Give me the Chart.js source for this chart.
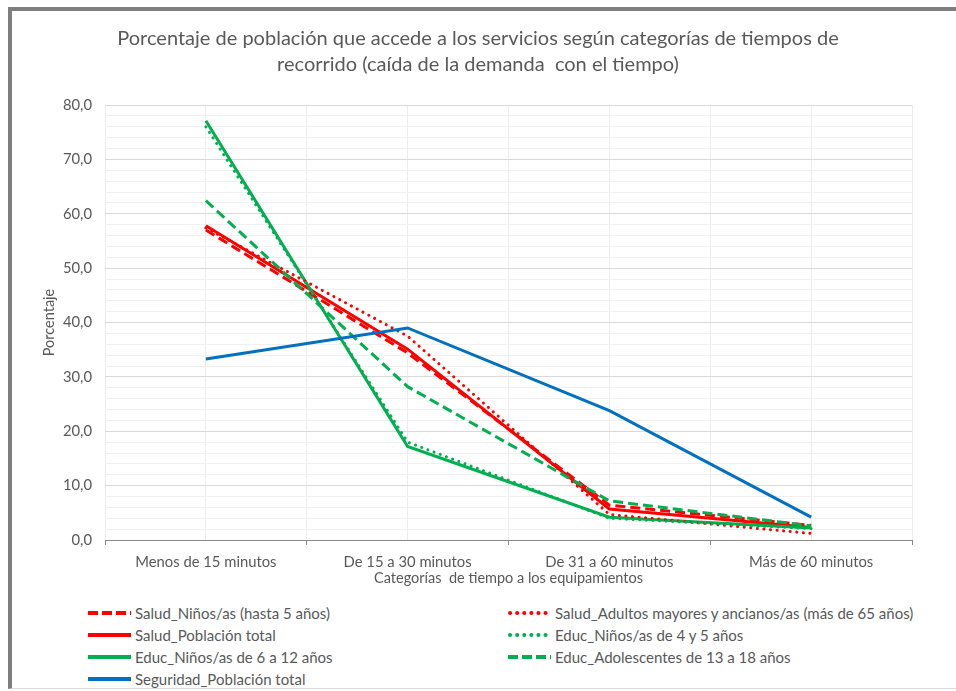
<!DOCTYPE html>
<html>
<head>
<meta charset="utf-8">
<script src="https://cdn.jsdelivr.net/npm/chart.js@4.4.1/dist/chart.umd.min.js"></script>
<style>
  html, body { margin: 0; padding: 0; background: #ffffff; width: 956px; height: 691px; overflow: hidden; }
  #frame { position: absolute; left: 8px; top: 7px; width: 1000px; height: 677px;
           border-top: 4px solid #7f7f7f; border-left: 4px solid #7f7f7f; border-bottom: 1px solid #d9d9d9; }
  #wrap { position: absolute; left: 0; top: 0; width: 956px; height: 587px; }
  #legend { position: absolute; left: 0; top: 602px; width: 956px; height: 88px;
            font-family: Lato, "Open Sans", sans-serif; font-size: 15px; color: #595959; }
  .item { position: absolute; height: 22px; line-height: 22px; white-space: nowrap; }
  .item canvas { position: absolute; left: 0; top: 0; }
  .item span { position: absolute; top: 0; }
</style>
</head>
<body>
<div id="frame"></div>
<div id="wrap"><canvas id="c"></canvas></div>
<div id="legend"></div>
<script>
const categories = ['Menos de 15 minutos', 'De 15 a 30 minutos', 'De 31 a 60 minutos', 'Más de 60 minutos'];
const seriesNames = [
  'Salud_Niños/as (hasta 5 años)',
  'Salud_Adultos mayores y ancianos/as (más de 65 años)',
  'Salud_Población total',
  'Educ_Niños/as de 4 y 5 años',
  'Educ_Niños/as de 6 a 12 años',
  'Educ_Adolescentes de 13 a 18 años',
  'Seguridad_Población total'
];
const saludNinos     = [57.0, 34.4, 6.4, 2.7];
const saludAdultos   = [57.4, 37.5, 4.7, 1.2];
const saludTotal     = [57.8, 35.1, 5.7, 2.3];
const educNinos45    = [76.0, 18.0, 4.0, 2.1];
const educNinos612   = [77.1, 17.2, 4.2, 2.2];
const educAdolesc    = [62.4, 28.2, 7.2, 2.6];
const seguridadTotal = [33.3, 39.0, 23.8, 4.2];
const yTickValues = [0, 10, 20, 30, 40, 50, 60, 70, 80];

const RED = '#ff0000', GREEN = '#00b050', BLUE = '#0070c0';
const DASH = [10, 5], DOT = [0.1, 6.5];

function ds(label, data, color, dash) {
  return {
    label: label, data: data, borderColor: color, backgroundColor: color,
    borderWidth: 3, borderDash: dash, borderCapStyle: dash === DOT ? 'round' : 'butt',
    pointRadius: 0, pointHoverRadius: 0, tension: 0, fill: false, xAxisID: 'x', yAxisID: 'y'
  };
}

const datasets = [
  ds(seriesNames[0], saludNinos, RED, DASH),
  ds(seriesNames[1], saludAdultos, RED, DOT),
  ds(seriesNames[2], saludTotal, RED, []),
  ds(seriesNames[3], educNinos45, GREEN, DOT),
  ds(seriesNames[4], educNinos612, GREEN, []),
  ds(seriesNames[5], educAdolesc, GREEN, DASH),
  ds(seriesNames[6], seguridadTotal, BLUE, [])
];
const drawOrder = [6, 5, 3, 1, 0, 4, 2];
datasets.forEach((d, i) => { d.order = drawOrder.indexOf(i); });

const FONT = 'Lato, "Open Sans", sans-serif';
const TXT = '#595959';

// shifts the title's centring box so it is centred like the reference
const titleShift = {
  id: 'titleShift',
  afterLayout(chart) { if (chart.titleBlock) { chart.titleBlock.left += 30; } }
};

const chart = new Chart(document.getElementById('c'), {
  type: 'line',
  data: { labels: categories, datasets: datasets },
  plugins: [titleShift],
  options: {
    responsive: true, maintainAspectRatio: false, animation: false,
    layout: { padding: { left: 14, right: 44, top: 14, bottom: 0 } },
    plugins: {
      legend: { display: false },
      tooltip: { enabled: false },
      title: {
        display: true,
        text: ['Porcentaje de población que accede a los servicios según categorías de tiempos de',
               'recorrido (caída de la demanda  con el tiempo)'],
        color: TXT, font: { family: FONT, size: 20, weight: 'normal', lineHeight: 1.3 },
        padding: { top: 12, bottom: 27 }
      }
    },
    scales: {
      x: {
        type: 'category', position: 'bottom', offset: true, weight: 1,
        grid: { display: true, offset: false, color: '#ececec', lineWidth: 1, drawTicks: false },
        border: { display: false },
        ticks: { color: TXT, font: { family: FONT, size: 14.8 }, padding: 13, maxRotation: 0, autoSkip: false },
        title: { display: true, text: 'Categorías  de tiempo a los equipamientos', color: TXT,
                 font: { family: FONT, size: 14.5 }, padding: { top: 0, bottom: 0 } },
        afterFit: s => { s.height = 47; }
      },
      x2: {
        type: 'category', position: 'bottom', offset: true, weight: 0, labels: categories,
        grid: { display: true, offset: true, color: '#ececec', lineWidth: 1, drawTicks: true,
                tickLength: 5, tickColor: '#898989' },
        border: { display: true, color: '#898989', width: 1 },
        ticks: { display: false },
        afterFit: s => { s.height = 0; }
      },
      y: {
        min: 0, max: 80,
        afterBuildTicks: s => {
          const t = [];
          for (let v = 0; v <= 80; v += 2) t.push({ value: v });
          s.ticks = t;
        },
        grid: {
          drawTicks: false,
          color: c => (c.tick && yTickValues.includes(c.tick.value)) ? '#d9d9d9' : '#f0f0f0',
          lineWidth: 1
        },
        border: { display: false },
        ticks: {
          color: TXT, font: { family: FONT, size: 14.8 }, padding: 13, autoSkip: false,
          callback: v => yTickValues.includes(v) ? v.toFixed(1).replace('.', ',') : ''
        },
        title: { display: true, text: 'Porcentaje', color: TXT,
                 font: { family: FONT, size: 14.5 }, padding: { top: 27, bottom: 0 } },
        afterFit: s => { s.width = 91; }
      }
    }
  }
});

const legendPos = [
  [88, 0], [508, 0],
  [88, 1], [508, 1],
  [88, 2], [508, 2],
  [88, 3]
];
const legendEl = document.getElementById('legend');
chart.data.datasets.forEach((d, i) => {
  const [lx, row] = legendPos[i];
  const item = document.createElement('div');
  item.className = 'item';
  item.style.left = lx + 'px';
  item.style.top = (row * 22) + 'px';
  const cv = document.createElement('canvas');
  cv.width = 44; cv.height = 22;
  const ctx = cv.getContext('2d');
  ctx.strokeStyle = d.borderColor;
  ctx.lineWidth = 4;
  ctx.lineCap = d.borderCapStyle;
  ctx.setLineDash(d.borderDash && d.borderDash.length ? (d.borderDash === DOT ? [0.1, 7] : [10, 4]) : []);
  ctx.beginPath(); ctx.moveTo(d.borderCapStyle === 'round' ? 2 : 0, 11); ctx.lineTo(43, 11); ctx.stroke();
  const sp = document.createElement('span');
  sp.style.left = '47px';
  sp.textContent = d.label;
  item.appendChild(cv); item.appendChild(sp);
  legendEl.appendChild(item);
});
</script>
</body>
</html>
